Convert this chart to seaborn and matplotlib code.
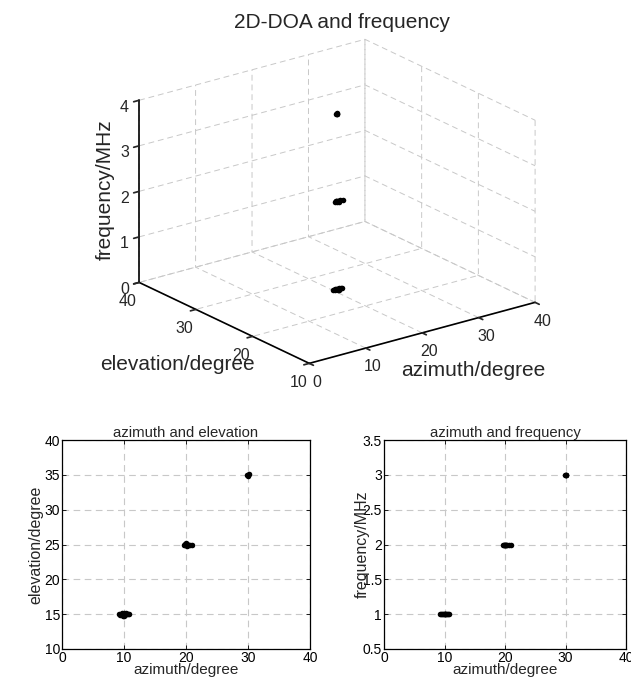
import numpy as np
import pandas as pd
import matplotlib
matplotlib.use("Agg")
import matplotlib.pyplot as plt
import seaborn as sns

# ---- data ----
azimuth = [9.2, 9.4, 9.6, 9.8, 9.9, 10.0, 10.1, 10.2, 10.4, 10.6, 10.8, 10.0,
           19.6, 19.8, 19.9, 20.0, 20.1, 20.2, 20.3, 20.6, 21.0, 20.0,
           29.9, 30.0, 30.1, 30.0]
elevation = [15.0, 14.9, 15.1, 15.0, 14.8, 15.1, 15.0, 14.9, 15.2, 15.0, 15.0, 14.7,
             25.0, 24.9, 25.1, 25.0, 24.8, 25.1, 25.0, 25.0, 25.0, 25.2,
             35.0, 34.9, 35.1, 35.0]
frequency = [1.0, 1.0, 1.0, 1.0, 1.0, 1.0, 1.0, 1.0, 1.0, 1.0, 1.0, 1.0,
             2.0, 2.0, 2.0, 2.0, 2.0, 2.0, 2.0, 2.0, 2.0, 2.0,
             3.0, 3.0, 3.0, 3.0]
az_ticks = [0, 10, 20, 30, 40]
el_ticks = [10, 15, 20, 25, 30, 35, 40]
fr_ticks = [0.5, 1, 1.5, 2, 2.5, 3, 3.5]
fr_labels = ["0.5", "1", "1.5", "2", "2.5", "3", "3.5"]
fr3_ticks = [0, 1, 2, 3, 4]
el3_ticks = [10, 20, 30, 40]

df = pd.DataFrame({"azimuth": azimuth, "elevation": elevation, "frequency": frequency})

sns.set_theme(style="white")
plt.rcParams["font.family"] = ["Liberation Sans", "DejaVu Sans"]

fig = plt.figure(figsize=(6.31, 6.77), dpi=100)

grid_kw = dict(color="#c8c8c8", linestyle=(0, (6, 4)), linewidth=0.8)

# ---- 3D plot ----
ax3 = fig.add_axes([0.019, 0.375, 1.012, 0.638], projection="3d")
ax3.set_proj_type("ortho")
ax3.view_init(elev=21, azim=-127)
ax3.set_box_aspect((1, 1, 0.69))
ax3.scatter(df["azimuth"], df["elevation"], df["frequency"], color="black", s=16,
            depthshade=False, linewidths=0)
ax3.set_xlim(0, 40)
ax3.set_ylim(10, 40)
ax3.set_zlim(0, 4)
ax3.set_xticks(az_ticks)
ax3.set_yticks(el3_ticks)
ax3.set_zticks(fr3_ticks)
for a in (ax3.xaxis, ax3.yaxis, ax3.zaxis):
    a.set_pane_color((1, 1, 1, 0))
    a.pane.set_edgecolor((1, 1, 1, 0))
    a._axinfo["grid"]["color"] = "#c8c8c8"
    a._axinfo["grid"]["linestyle"] = (0, (6, 4))
    a._axinfo["grid"]["linewidth"] = 0.7
    a.line.set_color("black")
    a.line.set_linewidth(1.2)
    a._axinfo["tick"]["inward_factor"] = 0.3
    a._axinfo["tick"]["outward_factor"] = 0.0
ax3.tick_params(labelsize=11.5)
ax3.xaxis.set_tick_params(pad=-1)
ax3.yaxis.set_tick_params(pad=0)
ax3.zaxis.set_tick_params(pad=-2)
ax3.set_xlabel("")
ax3.set_ylabel("")
ax3.set_zlabel("")
fig.text(342 / 631, 1 - 22 / 677, "2D-DOA and frequency", fontsize=15, ha="center", va="center")
fig.text(473 / 631, 1 - 370 / 677, "azimuth/degree", fontsize=15, ha="center", va="center")
fig.text(177 / 631, 1 - 365 / 677, "elevation/degree", fontsize=15, ha="center", va="center")
fig.text(105 / 631, 1 - 190 / 677, "frequency/MHz", fontsize=15, ha="center", va="center",
         rotation=90)

# ---- 2D plots ----
def style2d(ax):
    ax.grid(True, **grid_kw)
    for s in ax.spines.values():
        s.set_color("black")
        s.set_linewidth(0.9)
    ax.tick_params(direction="in", length=3, width=0.6, labelsize=10, colors="black",
                   top=True, right=True, bottom=True, left=True, pad=1.5)

ax1 = fig.add_axes([62 / 631, 28 / 677, 248 / 631, 209 / 677])
sns.scatterplot(data=df, x="azimuth", y="elevation", ax=ax1, color="black", s=16,
                linewidth=0, legend=False)
ax1.set_xlim(0, 40)
ax1.set_ylim(10, 40)
ax1.set_xticks(az_ticks)
ax1.set_yticks(el_ticks)
ax1.set_xlabel("azimuth/degree", fontsize=11, labelpad=-1.5)
ax1.set_ylabel("elevation/degree", fontsize=11.5, labelpad=1)
ax1.set_title("azimuth and elevation", fontsize=10.75, pad=2)
style2d(ax1)

ax2 = fig.add_axes([384 / 631, 28 / 677, 242 / 631, 209 / 677])
sns.scatterplot(data=df, x="azimuth", y="frequency", ax=ax2, color="black", s=16,
                linewidth=0, legend=False)
ax2.set_xlim(0, 40)
ax2.set_ylim(0.5, 3.5)
ax2.set_xticks(az_ticks)
ax2.set_yticks(fr_ticks)
ax2.set_yticklabels(fr_labels)
ax2.set_xlabel("azimuth/degree", fontsize=11, labelpad=-1.5)
ax2.set_ylabel("frequency/MHz", fontsize=11.5, labelpad=-5)
ax2.set_title("azimuth and frequency", fontsize=10.75, pad=2)
style2d(ax2)

fig.savefig("out.png", dpi=100, facecolor="white")
